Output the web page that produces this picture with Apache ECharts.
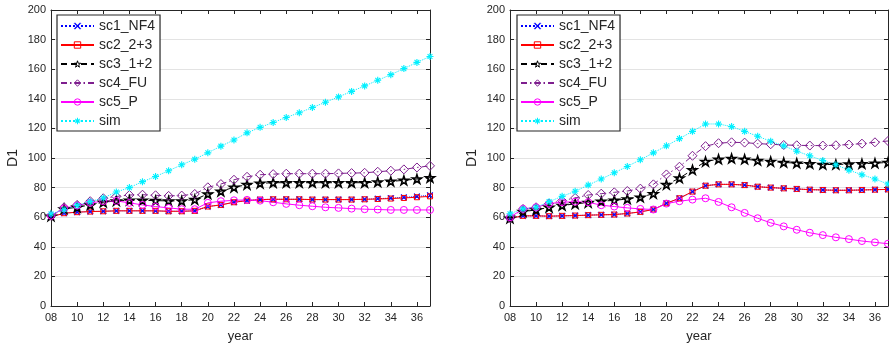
<!DOCTYPE html>
<html><head><meta charset="utf-8">
<script src="https://cdn.jsdelivr.net/npm/echarts@6/dist/echarts.min.js"></script>
<style>html,body{margin:0;padding:0;background:#fff}#c{width:889px;height:348px}</style>
</head><body><div id="c"></div>
<script>
const years = [8,9,10,11,12,13,14,15,16,17,18,19,20,21,22,23,24,25,26,27,28,29,30,31,32,33,34,35,36,37];
const names = ['sc1_NF4','sc2_2+3','sc3_1+2','sc4_FU','sc5_P','sim'];
const yTicks = [0,20,40,60,80,100,120,140,160,180,200];

// Left panel
const L_sc1 = [60.2,62.7,63.4,63.8,64.0,64.3,64.3,64.3,64.3,64.0,64.0,64.3,67.2,68.3,70.1,71.2,71.9,72.1,72.1,72.1,71.9,71.9,71.9,71.9,72.1,72.5,72.9,73.4,74.0,74.8];
const L_sc2 = [60.2,62.7,63.4,63.8,64.0,64.3,64.3,64.3,64.3,64.0,64.0,64.3,67.2,68.3,70.1,71.2,71.9,72.1,72.1,72.1,71.9,71.9,71.9,71.9,72.1,72.3,72.6,73.0,73.5,74.1];
const L_sc3 = [60.7,65.6,66.7,68.3,70.1,71.0,71.4,71.4,71.2,71.0,71.0,71.9,75.7,77.5,80.2,82.0,82.9,83.3,83.3,83.3,83.3,83.3,83.3,83.3,83.3,83.8,84.2,84.9,85.8,86.7];
const L_sc4 = [61.0,66.7,68.3,70.8,72.8,74.0,75.0,75.2,74.8,74.4,74.6,75.7,80.2,82.4,85.3,87.3,88.7,89.1,89.4,89.4,89.4,89.4,89.6,89.8,90.0,90.7,91.4,92.3,93.6,94.7];
const L_sc5 = [61.0,66.0,67.9,69.7,70.8,71.0,69.7,68.3,67.2,66.3,65.4,65.4,69.7,70.8,71.4,71.7,71.2,70.1,69.0,68.1,67.4,66.7,66.3,65.8,65.4,65.2,64.9,64.9,64.9,64.9];
const L_sim = [62.3,65.0,68.0,70.5,73.0,77.0,80.0,84.0,87.5,91.4,95.4,99.2,103.5,108.0,112.2,117.0,120.7,124.0,127.4,130.6,134.1,137.7,141.3,145.0,148.7,152.5,156.3,160.4,164.6,168.6];

// Right panel
const R_sc1 = [59.3,60.9,60.9,60.7,60.9,61.1,61.4,61.6,61.8,62.5,63.6,65.2,69.4,72.8,77.3,81.3,82.2,82.2,81.7,80.6,80.0,79.5,79.1,78.6,78.4,78.2,78.2,78.4,78.6,78.8];
const R_sc2 = [59.3,60.9,60.9,60.7,60.9,61.1,61.4,61.6,61.8,62.5,63.6,65.2,69.4,72.8,77.3,81.3,82.2,82.2,81.7,80.6,80.0,79.5,79.1,78.6,78.4,78.2,78.2,78.4,78.6,78.8];
const R_sc3 = [59.3,63.8,64.9,66.7,67.9,69.0,69.9,70.8,71.4,72.3,73.5,75.9,82.0,86.4,92.0,97.6,99.2,99.7,99.2,98.3,97.6,97.0,96.5,96.1,95.6,95.6,95.9,96.1,96.5,97.0];
const R_sc4 = [59.3,65.6,66.7,69.2,71.2,73.0,75.0,75.9,76.8,77.7,79.3,82.2,88.9,94.1,101.5,108.0,110.0,110.6,110.4,109.7,109.3,108.8,108.6,108.4,108.4,108.6,109.1,109.7,110.6,111.5];
const R_sc5 = [60.0,65.6,66.7,69.2,70.1,70.5,70.1,68.1,67.2,66.3,65.6,65.2,69.2,70.8,71.9,72.8,70.3,66.7,62.9,59.3,56.2,53.8,51.5,49.5,47.9,46.4,45.2,43.9,43.0,42.1];
const R_sim = [62.3,65.6,66.7,70.5,74.1,77.5,81.7,85.8,90.0,94.3,98.8,103.5,108.2,113.1,118.0,123.0,123.0,121.2,118.0,114.7,111.3,108.2,104.6,101.5,98.3,95.4,91.8,88.7,85.8,82.4];

const FONT = 'Liberation Sans';
const AX = '#262626';
const starPath = 'path://M50,0 L61,35 L98,35 L68,57 L79,91 L50,70 L21,91 L32,57 L2,35 L39,35 Z';
const xPath = 'path://M0,1 L1,0 L5,4 L9,0 L10,1 L6,5 L10,9 L9,10 L5,6 L1,10 L0,9 L4,5 Z';
const astPath = 'path://M4.2,0 L5.8,0 L5.8,10 L4.2,10 Z M0,4.2 L10,4.2 L10,5.8 L0,5.8 Z M1,2.1 L2.1,1 L9,7.9 L7.9,9 Z M7.9,1 L9,2.1 L2.1,9 L1,7.9 Z';
const NOFILL = 'rgba(255,255,255,0)';

const styles = [
  {color:'#0000ff', line:'dotted', symbol:xPath, size:6, fill:'#0000ff', bw:0.6},
  {color:'#ff0000', line:'solid', symbol:'rect', size:5, fill:NOFILL, bw:1},
  {color:'#000000', line:[6,4], symbol:starPath, size:9, fill:NOFILL, bw:1.6},
  {color:'#7e1e8e', line:[6,3,1.5,3], symbol:'diamond', size:9, fill:NOFILL, bw:1},
  {color:'#ff00ff', line:'solid', symbol:'circle', size:7, fill:NOFILL, bw:1},
  {color:'#00f0ff', line:'dotted', symbol:astPath, size:7, fill:'#00f0ff', bw:0}
];

function pairs(arr){ return years.map((y,i)=>[y,arr[i]]); }
function mkSeries(arrs, xi, yi){
  return arrs.map((a,k)=>({
    name:names[k], type:'line', xAxisIndex:xi, yAxisIndex:yi,
    data:pairs(a), symbol:styles[k].symbol, symbolSize:styles[k].size, symbolKeepAspect:true,
    showAllSymbol:true, animation:false,
    lineStyle:{color:styles[k].color, width:1, type:styles[k].line},
    itemStyle:{color:styles[k].fill, borderColor:styles[k].color, borderWidth:styles[k].bw}
  }));
}

const grids = [{left:51, top:10, width:379, height:298}, {left:510, top:10, width:378, height:298}];
const xAxes = [], yAxes = [];
grids.forEach((g,gi)=>{
  xAxes.push({gridIndex:gi, type:'value', min:8, max:37, interval:2, position:'bottom',
    name:'year', nameLocation:'middle', nameGap:24,
    nameTextStyle:{fontFamily:FONT, fontSize:13, color:AX},
    axisLine:{onZero:false, lineStyle:{color:AX}},
    axisTick:{inside:true, length:4, lineStyle:{color:AX}},
    axisLabel:{fontFamily:FONT, fontSize:11, color:AX, margin:6, showMaxLabel:false,
      formatter:v=> v===37 ? '' : String(v).padStart(2,'0')},
    splitLine:{show:false}});
  xAxes.push({gridIndex:gi, type:'value', min:8, max:37, interval:2, position:'top',
    axisLine:{onZero:false, lineStyle:{color:AX}},
    axisTick:{inside:true, length:4, lineStyle:{color:AX}},
    axisLabel:{show:false}, splitLine:{show:false}});
  yAxes.push({gridIndex:gi, type:'value', min:0, max:200, interval:20, position:'left',
    name:'D1', nameLocation:'middle', nameGap:31, nameRotate:90,
    nameTextStyle:{fontFamily:FONT, fontSize:14, color:AX},
    axisLine:{show:true, onZero:false, lineStyle:{color:AX}},
    axisTick:{show:true, inside:true, length:4, lineStyle:{color:AX}},
    axisLabel:{fontFamily:FONT, fontSize:11, color:AX, margin:5},
    splitLine:{show:true, lineStyle:{color:'#e3e3e3', width:1}}});
  yAxes.push({gridIndex:gi, type:'value', min:0, max:200, interval:20, position:'right',
    axisLine:{show:true, onZero:false, lineStyle:{color:AX}},
    axisTick:{show:true, inside:true, length:4, lineStyle:{color:AX}},
    axisLabel:{show:false}, splitLine:{show:false}});
});

function mkLegend(left){
  return {left:left, top:15, orient:'vertical',
    data:names.map((n,k)=>({name:n,
      itemStyle:{color:styles[k].fill, borderColor:styles[k].color, borderWidth:Math.min(styles[k].bw,1)}})),
    backgroundColor:'#fff', borderColor:AX, borderWidth:1.2,
    padding:[4,5,3,3], itemGap:5, itemWidth:33, itemHeight:8,
    textStyle:{fontFamily:FONT, fontSize:14, color:AX, lineHeight:14},
    selectedMode:false};
}

const chart = echarts.init(document.getElementById('c'), null, {renderer:'canvas'});
chart.setOption({
  backgroundColor:'#fff',
  animation:false,
  grid:grids,
  xAxis:xAxes, yAxis:yAxes,
  legend:[mkLegend(57), mkLegend(517)],
  series:[].concat(
    mkSeries([L_sc1,L_sc2,L_sc3,L_sc4,L_sc5,L_sim],0,0),
    mkSeries([R_sc1,R_sc2,R_sc3,R_sc4,R_sc5,R_sim],2,2))
});
</script></body></html>
